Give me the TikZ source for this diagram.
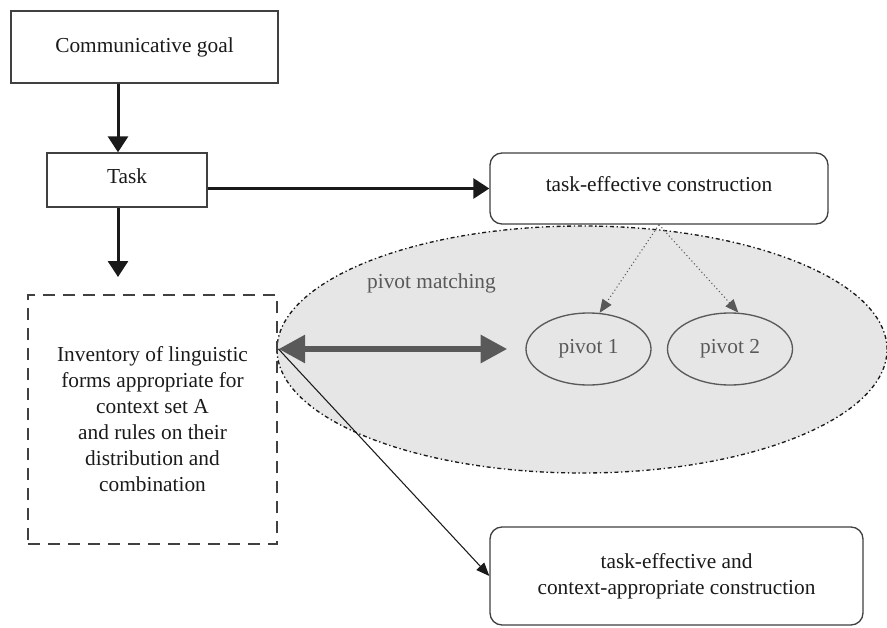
\documentclass[tikz,border=0pt]{standalone}
\usepackage{fontspec}
\setmainfont{Liberation Serif}
\usepackage{xcolor}
\usetikzlibrary{arrows.meta,shapes.geometric}
\definecolor{ink}{HTML}{1A1A1A}
\definecolor{frame}{HTML}{404040}
\definecolor{zone-fill}{HTML}{E6E6E6}
\definecolor{soft-gray}{HTML}{595959}

\begin{document}
\begin{tikzpicture}[x=0.75pt, y=-0.75pt,
    every node/.style={font=\fontsize{16}{19.5}\selectfont, text=ink},
    box/.style={draw=frame, line width=1pt, fill=white},
    roundbox/.style={box, rounded corners=9pt, align=center},
    invbox/.style={draw=frame, line width=2.2pt, dash pattern=on 9pt off 6pt, align=center},
    zone/.style={ellipse, draw=ink, fill=zone-fill, line width=1pt, dash dot, inner sep=0pt},
    pivot/.style={ellipse, draw=soft-gray, line width=1pt, text=soft-gray, inner sep=0pt},
    flow/.style={draw=ink, line width=2.25pt, -{Triangle[length=12pt,width=15pt]}},
    hint/.style={draw=soft-gray, line width=0.8pt, dotted, -{Triangle[length=10pt,width=8pt]}, soft-gray},
    match/.style={draw=soft-gray, line width=5pt, {Triangle[length=20pt,width=20pt]}-{Triangle[length=20pt,width=20pt]}},
    lead/.style={draw=ink, line width=0.8pt, -{Triangle[length=10pt,width=8pt]}}]
    \useasboundingbox (0,0) rectangle (887,627);

    % pivot matching area
    \node[zone, minimum width=457.5pt, minimum height=185.25pt] (area) at (582,349.5) {};
    \node[text=soft-gray] (matchlbl) at (431.5,283) {pivot matching};
    \node[pivot, minimum width=93.75pt, minimum height=54pt] (p1) at (588.5,349) {pivot 1};
    \node[pivot, minimum width=93.75pt, minimum height=54pt] (p2) at (730,349) {pivot 2};

    % boxes
    \node[box, minimum width=200.25pt, minimum height=54pt] (goal) at (144.5,47) {Communicative goal};
    \node[box, minimum width=120pt, minimum height=40.5pt, text depth=6pt] (task) at (127,180) {Task};
    \node[roundbox, minimum width=253.5pt, minimum height=53.25pt, text depth=7pt] (tec) at (659,188.5) {task-effective construction};
    \node[invbox, minimum width=186.75pt, minimum height=186.75pt] (inv) at (152.5,419.5)
        {Inventory of linguistic\\forms appropriate for\\context set A\\and rules on their\\distribution and\\combination};
    \node[roundbox, minimum width=279.75pt, minimum height=73.5pt] (final) at (676.5,576)
        {task-effective and\\context-appropriate construction};
    \coordinate (invtop) at (118,277);

    % connectors
    \draw[flow] ([xshift=-6.75pt]task.north |- goal.south) -- ([xshift=-6.75pt]task.north);
    \draw[flow] ([xshift=-6.75pt]task.south) -- (invtop);
    \draw[flow] (task.east |- tec.west) -- (tec.west);
    \draw[hint] (tec.south) -- (p1.73);
    \draw[hint] (tec.south) -- (p2.77);
    \draw[match] (inv.east |- p1.west) -- ([xshift=-13.5pt]p1.west);
    \draw[lead] (inv.east |- p1.west) -- (final.west);
\end{tikzpicture}
\end{document}
